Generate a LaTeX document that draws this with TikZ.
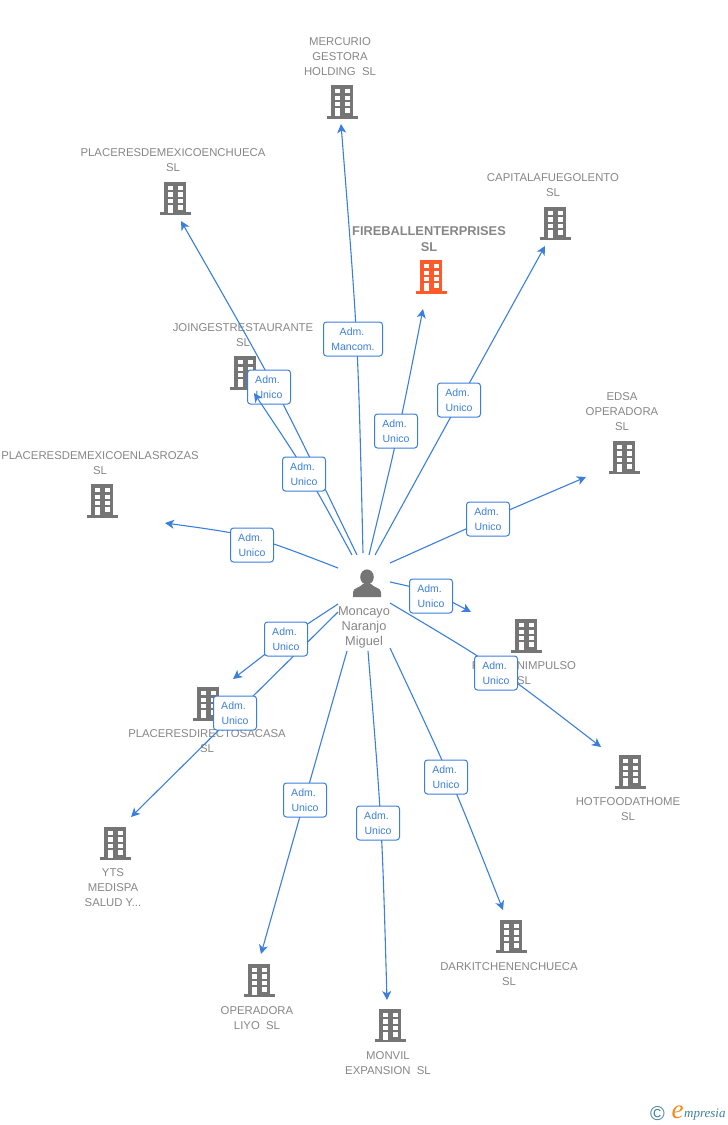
\documentclass[tikz,border=0pt]{standalone}
\usepackage{fontspec}
\setmainfont{Liberation Sans}
\newfontfamily\logofont{Liberation Serif}
\usetikzlibrary{arrows.meta}

\definecolor{edgeblue}{HTML}{3B7FDC}
\definecolor{bldggray}{HTML}{757575}
\definecolor{bldgorange}{HTML}{FF5A2B}
\definecolor{namegray}{HTML}{868686}
\definecolor{logoteal}{HTML}{3F7F9C}
\definecolor{logoorange}{HTML}{F28A1E}

\tikzset{
  edge/.style={edgeblue, line width=1.1pt, -{Stealth[length=9pt,width=9pt,inset=2.5pt]}},
  rolelbl/.style={draw=edgeblue, fill=white, rounded corners=3pt, line width=1pt, text=edgeblue,
    font=\fontsize{10.5}{15}\selectfont, align=center, minimum width=43pt, minimum height=34pt, inner sep=0pt},
  compname/.style={text=namegray, font=\fontsize{11.35}{15}\selectfont, align=center, inner sep=0pt},
  mainname/.style={compname, font=\fontsize{12.8}{15.5}\selectfont\bfseries},
  bldg/.pic={
    \fill[pic actions] (-11,-17) rectangle (11,13.5);
    \fill[pic actions] (-15.5,13.5) rectangle (15.5,16.5);
    \fill[white] (-7.2,-13) rectangle (-2.5,-9);
    \fill[white] (2.5,-13) rectangle (7.5,-9);
    \fill[white] (-7.2,-6.3) rectangle (-2.5,-2);
    \fill[white] (2.5,-6.3) rectangle (7.5,-2);
    \fill[white] (-7.2,.3) rectangle (-2.5,4.3);
    \fill[white] (2.5,.3) rectangle (7.5,4.3);
    \fill[white] (-7.2,6.3) rectangle (-2.5,14);
    \fill[white] (2.5,6.3) rectangle (7.5,11);
  }
}

\begin{document}
\begin{tikzpicture}[x=1pt, y=-1pt]
  \useasboundingbox (0,0) rectangle (728,1125);

  % companies
  \pic[fill=bldggray] (bmercurio) at (342,102) {bldg};
  \node[compname] (mercurio) at (340,57) {MERCURIO\\GESTORA\\HOLDING\ \ SL};
  \pic[fill=bldggray] (bchueca) at (175,198.5) {bldg};
  \node[compname] (chueca) at (173,160.5) {PLACERESDEMEXICOENCHUECA\\SL};
  \pic[fill=bldggray] (bcapital) at (555,223.5) {bldg};
  \node[compname] (capital) at (553,185.5) {CAPITALAFUEGOLENTO\\SL};
  \pic[fill=bldgorange] (bfire) at (431,277) {bldg};
  \node[mainname] (fire) at (429,239) {FIREBALLENTERPRISES\\SL};
  \pic[fill=bldggray] (bjoin) at (245,373) {bldg};
  \node[compname] (join) at (243,335.5) {JOINGESTRESTAURANTE\\SL};
  \pic[fill=bldggray] (brozas) at (102,501) {bldg};
  \node[compname] (rozas) at (100,463.5) {PLACERESDEMEXICOENLASROZAS\\SL};
  \pic[fill=bldggray] (bedsa) at (624,457.5) {bldg};
  \node[compname] (edsa) at (622,412) {EDSA\\OPERADORA\\SL};
  \pic[fill=bldggray] (bimpulso) at (526,636) {bldg};
  \node[compname] (impulso) at (524,673.5) {PLANESNIMPULSO\\SL};
  \pic[fill=bldggray] (bhot) at (630,772) {bldg};
  \node[compname] (hot) at (628,809.5) {HOTFOODATHOME\\SL};
  \pic[fill=bldggray] (bdirecto) at (208,704) {bldg};
  \node[compname] (directo) at (207,741.5) {PLACERESDIRECTOSACASA\\SL};
  \pic[fill=bldggray] (byts) at (115,843.5) {bldg};
  \node[compname] (yts) at (113,888) {YTS\\MEDISPA\\SALUD Y...};
  \pic[fill=bldggray] (bdark) at (511,936.5) {bldg};
  \node[compname] (dark) at (509,974.5) {DARKITCHENENCHUECA\\SL};
  \pic[fill=bldggray] (boper) at (259,980.5) {bldg};
  \node[compname] (oper) at (257,1018.5) {OPERADORA\\LIYO\ \ SL};
  \pic[fill=bldggray] (bmonvil) at (390,1025.5) {bldg};
  \node[compname] (monvil) at (388,1063.5) {MONVIL\\EXPANSION\ \ SL};

  % person
  \fill[bldggray] (367,577) ellipse (6.8 and 7.6);
  \fill[bldggray] (353,597) -- (353,592) .. controls (353,588) and (361,587) .. (363,584) -- (371,584)
    .. controls (373,587) and (381,588) .. (381,592) -- (381,597) -- cycle;
  \node[compname, font=\fontsize{12.8}{15}\selectfont] (person) at (364,627) {Moncayo\\Naranjo\\Miguel};

  % free ends of the connectors
  \coordinate (s1) at (363,553);   \coordinate (t1) at (341,124);
  \coordinate (s2) at (369,555);   \coordinate (t2) at (423,309);
  \coordinate (s3) at (375,555);   \coordinate (t3) at (545,246);
  \coordinate (s4) at (390,563);   \coordinate (t4) at (586,477);
  \coordinate (s5) at (390,582);   \coordinate (t5) at (471,612);
  \coordinate (s6) at (390,603);   \coordinate (t6) at (601,747);
  \coordinate (s7) at (390,648);   \coordinate (t7) at (503,910);
  \coordinate (s8) at (368,651);   \coordinate (t8) at (387,1000);
  \coordinate (s9) at (347,651);   \coordinate (t9) at (261,954);
  \coordinate (s10) at (338,612);  \coordinate (t10) at (131,817);
  \coordinate (s11) at (338,604);  \coordinate (t11) at (233,679);
  \coordinate (s12) at (338,568);  \coordinate (t12) at (165,523);
  \coordinate (s13) at (352,555);  \coordinate (t13) at (254,393);
  \coordinate (s14) at (357,555);  \coordinate (t14) at (181,221);

  % connectors, each one with its role
  \draw[edge] (s1) .. controls (358,339) .. (t1);
  \node[rolelbl, minimum width=59pt] (r1) at (353,339) {Adm.\kern2pt\\Mancom.};
  \draw[edge] (s2) .. controls (399,431) .. (t2);
  \node[rolelbl] (r2) at (396,431) {Adm.\kern3pt\\Unico};
  \draw[edge] (s3) .. controls (460,400) .. (t3);
  \node[rolelbl] (r3) at (459,400) {Adm.\kern3pt\\Unico};
  \draw[edge] (s4) .. controls (488,519) .. (t4);
  \node[rolelbl] (r4) at (488,519) {Adm.\kern3pt\\Unico};
  \draw[edge] (s5) .. controls (431,591) .. (t5);
  \node[rolelbl] (r5) at (431,596) {Adm.\kern3pt\\Unico};
  \draw[edge] (s6) .. controls (496,666) .. (t6);
  \node[rolelbl] (r6) at (496,673) {Adm.\kern3pt\\Unico};
  \draw[edge] (s7) .. controls (451,778) .. (t7);
  \node[rolelbl] (r7) at (446,777) {Adm.\kern3pt\\Unico};
  \draw[edge] (s8) .. controls (382,825) .. (t8);
  \node[rolelbl] (r8) at (378,823) {Adm.\kern3pt\\Unico};
  \draw[edge] (s9) .. controls (304,802) .. (t9);
  \node[rolelbl] (r9) at (305,800) {Adm.\kern3pt\\Unico};
  \draw[edge] (s10) .. controls (235,714) .. (t10);
  \node[rolelbl] (r10) at (235,713) {Adm.\kern3pt\\Unico};
  \draw[edge] (s11) .. controls (286,638) .. (t11);
  \node[rolelbl] (r11) at (286,639) {Adm.\kern3pt\\Unico};
  \draw[edge] (s12) .. controls (252.5,535) .. (t12);
  \node[rolelbl] (r12) at (252,545) {Adm.\kern3pt\\Unico};
  \draw[edge] (s14) .. controls (276,387) .. (t14);
  \node[rolelbl] (r14) at (269,387) {Adm.\kern3pt\\Unico};
  \draw[edge] (s13) .. controls (308,474) .. (t13);
  \node[rolelbl] (r13) at (304,474) {Adm.\kern3pt\\Unico};

  % logo
  \node[text=logoteal, font=\fontsize{20}{20}\selectfont, inner sep=0pt] (logoc) at (657.5,1114) {©};
  \node[text=logoorange, font=\fontsize{27}{27}\logofont\itshape\selectfont, inner sep=0pt] (logoe) at (677.5,1112) {e};
  \node[text=logoteal, font=\fontsize{13}{13}\logofont\itshape\selectfont, inner sep=0pt, anchor=west] (logot) at (684,1115) {mpresia};
\end{tikzpicture}
\end{document}
